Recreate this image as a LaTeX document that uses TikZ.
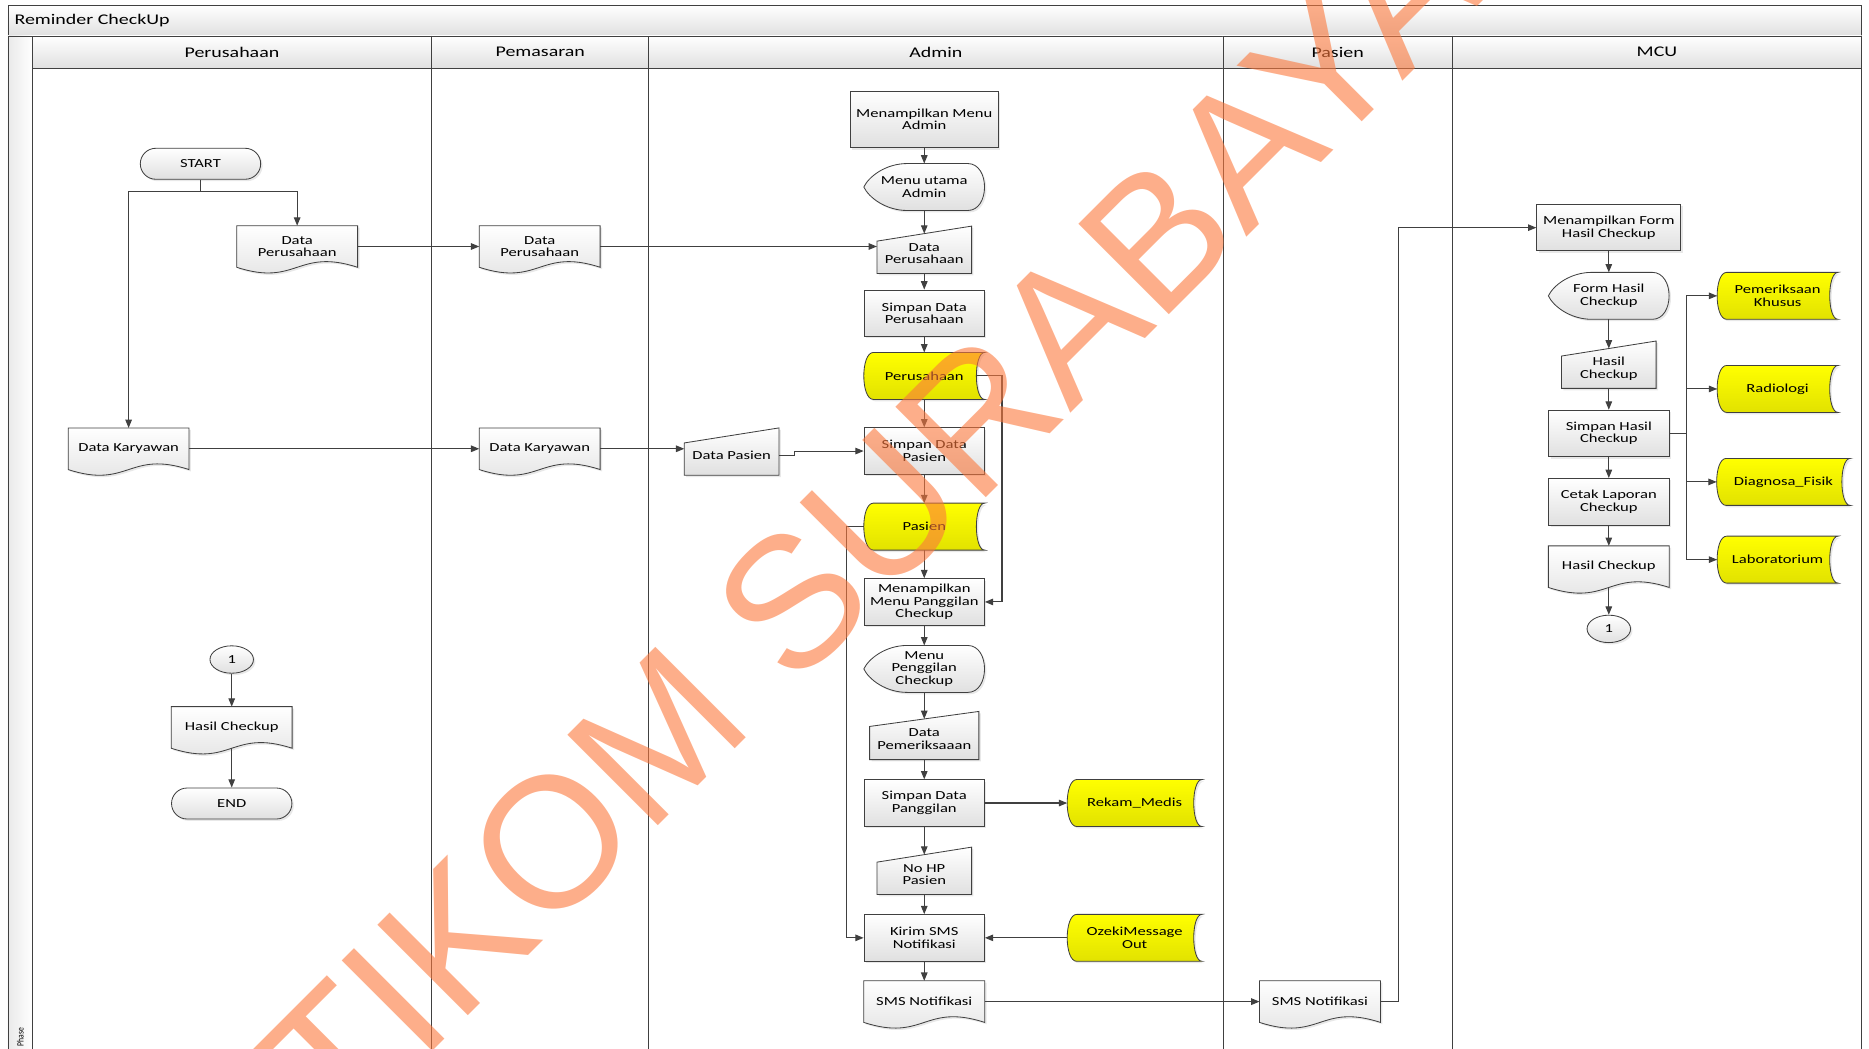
\documentclass[tikz,border=0pt]{standalone}
\usepackage{fontspec}
\setmainfont{Carlito}[FakeStretch=1.35]
\newfontfamily\phasefont{Carlito}[FakeStretch=0.8]
\newfontfamily\markfont{Liberation Sans}
\usetikzlibrary{arrows.meta, calc, shapes.geometric, shadows, backgrounds}
\definecolor{linegray}{RGB}{64,64,64}
\definecolor{boxgray}{RGB}{224,224,224}
\definecolor{storeyellow}{RGB}{255,255,0}
\definecolor{storedark}{RGB}{226,226,0}
\definecolor{markorange}{RGB}{251,120,60}
\tikzset{>={Triangle[length=7pt, width=5.5pt]}}
\tikzset{
	wire/.style={draw=linegray, line width=0.9pt},
	flow/.style={wire, ->},
	outline/.style={draw=linegray, line width=0.7pt},
	greyfill/.style={top color=white, bottom color=boxgray},
	yellowfill/.style={top color=storeyellow, bottom color=storedark},
	softshadow/.style={drop shadow={shadow xshift=1.6pt, shadow yshift=-1.6pt, opacity=0.18}},
	bodytext/.style={font=\fontsize{10.3}{10.6}\selectfont, align=center, inner sep=1pt},
	procbox/.style={bodytext, outline, greyfill, softshadow, minimum width=101pt, minimum height=39pt},
	termbox/.style={bodytext, outline, greyfill, softshadow, rounded corners=13pt, minimum width=101pt, minimum height=26pt},
	connbox/.style={bodytext, ellipse, outline, greyfill, softshadow, minimum width=36.5pt, minimum height=23pt, inner sep=0pt},
	docbox/.style={bodytext, minimum width=101pt, minimum height=34.5pt},
	inbox/.style={bodytext, minimum width=79pt, minimum height=33pt},
	dispbox/.style={bodytext, minimum width=101pt, minimum height=39pt},
	storebox/.style={bodytext, minimum width=101pt, minimum height=39pt},
	lanehead/.style={font=\fontsize{12.4}{13}\selectfont, inner sep=1pt}
}
% document with wavy bottom
\newcommand{\docshape}[1]{
	\draw[outline, greyfill, softshadow](#1.north west)--(#1.north east)--(#1.south east)
		.. controls ([yshift=16.5pt]#1.south) and ([yshift=-16.5pt]#1.south) .. (#1.south west)--cycle;
}
% manual input
\newcommand{\inshape}[1]{
	\draw[outline, greyfill, softshadow]([yshift=-6.3pt]#1.north west)--([yshift=6.3pt]#1.north east)--(#1.south east)--(#1.south west)--cycle;
}
% display
\newcommand{\dispshape}[1]{
	\draw[outline, greyfill, softshadow] let \p1=(#1.south west), \p2=(#1.north east), \p3=($(\p2)-(\p1)$) in
		(\x1+0.36*\x3, \y2)--(\x1+0.86*\x3, \y2)
		.. controls (\x1+1.045*\x3, \y2) and (\x1+1.045*\x3, \y1) .. (\x1+0.86*\x3, \y1)
		--(\x1+0.36*\x3, \y1)
		.. controls (\x1+0.18*\x3, \y1) and (\x1+0.04*\x3, \y1+0.28*\y3) .. (\x1, \y1+0.5*\y3)
		.. controls (\x1+0.04*\x3, \y1+0.72*\y3) and (\x1+0.18*\x3, \y2) .. (\x1+0.36*\x3, \y2)--cycle;
}
% stored data
\newcommand{\storeshape}[1]{
	\draw[outline, yellowfill, softshadow] let \p1=(#1.south west), \p2=(#1.north east) in
		(\x1+8pt, \y2)--(\x2, \y2)
		.. controls (\x2-9.3pt, \y2) and (\x2-9.3pt, \y1) .. (\x2, \y1)
		--(\x1+8pt, \y1)
		.. controls (\x1-2.7pt, \y1) and (\x1-2.7pt, \y2) .. (\x1+8pt, \y2)--cycle;
}

\begin{document}
\begin{tikzpicture}[x=1pt, y=-1pt]
	\useasboundingbox(0, 0)rectangle(1568, 880);
	% frame and lanes
	\draw[outline, greyfill](6.7, 4.2)rectangle(1561.8, 30.2);
	\node[lanehead, anchor=west](title) at (11, 17.4){Reminder CheckUp};
	\draw[outline, left color=boxgray!70, right color=white](6.7, 30.2)rectangle(27, 895);
	\node[font=\phasefont\fontsize{8}{8}\selectfont, rotate=90, inner sep=0pt](phase) at (17, 870){Phase};
	\foreach \l/\r/\name [count=\i] in {27/362.2/Perusahaan, 362.2/544.3/Pemasaran, 544.3/1026/Admin, 1026/1218.4/Pasien, 1218.4/1561.8/MCU}{
		\draw[outline, greyfill](\l, 30.2)rectangle(\r, 57.3);
		\node[lanehead](head\i) at ({(\l+\r)/2}, 43.7){\name};
		\draw[outline](\r, 57.3)--(\r, 895);
	}

	% Perusahaan
	\node[termbox](start) at (168.2, 137.4){START};
	\node[docbox](dp1) at (249.3, 206.8){Data\\Perusahaan};
	\node[docbox](dk1) at (107.9, 376.5){Data Karyawan};
	\node[connbox](c1a) at (194.4, 553.3){1};
	\node[docbox](hc1) at (194.4, 610.3){Hasil Checkup};
	\node[termbox](stop) at (194.4, 674.1){END};
	% Pemasaran
	\node[docbox](dp2) at (452.8, 206.8){Data\\Perusahaan};
	\node[docbox](dk2) at (452.8, 376.5){Data Karyawan};
	% Admin
	\node[inbox](dpas) at (613.8, 382){Data Pasien};
	\node[procbox, minimum width=124.4pt, minimum height=47.6pt](mma) at (775.4, 100.1){Menampilkan Menu\\Admin};
	\node[dispbox](mua) at (775.4, 156.9){Menu utama\\Admin};
	\node[inbox](dpa) at (775.4, 212.7){Data\\Perusahaan};
	\node[procbox](sdper) at (775.4, 262.8){Simpan Data\\Perusahaan};
	\node[storebox](sper) at (775.4, 315.4){Perusahaan};
	\node[procbox](sdpas) at (775.4, 378.4){Simpan Data\\Pasien};
	\node[storebox](spas) at (775.4, 441.8){Pasien};
	\node[procbox](mmpc) at (775.4, 505){Menampilkan\\Menu Panggilan\\Checkup};
	\node[dispbox](mpc) at (775.4, 561.2){Menu\\Penggilan\\Checkup};
	\node[inbox, minimum width=91.3pt, minimum height=33.7pt](dpem) at (775.4, 620.2){Data\\Pemeriksaaan};
	\node[procbox](sdpg) at (775.4, 673.7){Simpan Data\\Panggilan};
	\node[storebox, minimum width=112.7pt](rm) at (951.9, 673.7){Rekam\_Medis};
	\node[inbox](nohp) at (775.4, 733.7){No HP\\Pasien};
	\node[procbox](kirim) at (775.4, 786.8){Kirim SMS\\Notifikasi};
	\node[storebox, minimum width=112.7pt](ozeki) at (951.9, 786.8){OzekiMessage\\Out};
	\node[docbox](sms1) at (775.4, 840.3){SMS Notifikasi};
	% Pasien
	\node[docbox](sms2) at (1107.4, 840.3){SMS Notifikasi};
	% MCU
	\node[procbox, minimum width=120.9pt](mfhc) at (1349.7, 191){Menampilkan Form\\Hasil Checkup};
	\node[dispbox](fhc) at (1349.7, 248.2){Form Hasil\\Checkup};
	\node[inbox](hcin) at (1349.7, 309.1){Hasil\\Checkup};
	\node[procbox](shc) at (1349.7, 363.6){Simpan Hasil\\Checkup};
	\node[procbox](clc) at (1349.7, 420.9){Cetak Laporan\\Checkup};
	\node[docbox](hc2) at (1349.7, 475.4){Hasil Checkup};
	\node[connbox](c1b) at (1349.7, 527.6){1};
	\node[storebox](pk) at (1491.3, 248.2){Pemeriksaan\\Khusus};
	\node[storebox](rad) at (1491.3, 326.3){Radiologi};
	\node[storebox, minimum width=111.6pt](dfis) at (1496.2, 404.3){Diagnosa\_Fisik};
	\node[storebox](lab) at (1491.3, 469.5){Laboratorium};

	\begin{scope}[on background layer]
		\foreach \s in {dp1, dp2, dk1, dk2, hc1, sms1, sms2, hc2}{\docshape{\s}}
		\foreach \s in {dpas, dpa, dpem, nohp, hcin}{\inshape{\s}}
		\foreach \s in {mua, mpc, fhc}{\dispshape{\s}}
		\foreach \s in {sper, spas, rm, ozeki, pk, rad, dfis, lab}{\storeshape{\s}}
	\end{scope}

	% connectors
	\draw[flow](start.south)--++(0, 9.8)-|(dp1.north);
	\draw[flow](start.south)--++(0, 9.8)-|(dk1.north);
	\draw[flow](dp1.east)--(dp2.west);
	\draw[flow](dk1.east)--(dk2.west);
	\draw[flow](dp2.east)--(dp2.east-|dpa.west);
	\draw[flow](dk2.east)--(dk2.east-|dpas.west);
	\draw[flow](dpas.east)--++(13, 0)|-(sdpas.west);
	\foreach \up/\dn in {mma/mua, mua/dpa, dpa/sdper, sdper/sper, sper/sdpas, sdpas/spas, spas/mmpc, mmpc/mpc, mpc/dpem, dpem/sdpg, sdpg/nohp, nohp/kirim, kirim/sms1, mfhc/fhc, fhc/hcin, hcin/shc, shc/clc, clc/hc2, hc2/c1b, c1a/hc1, hc1/stop}
		\draw[flow](\up.south)--(\dn.north);
	\draw[flow]([xshift=-7pt]sper.east)--++(21.5, 0)|-(mmpc.east);
	\draw[flow](spas.west)--++(-14.5, 0)|-(kirim.west);
	\draw[flow](sdpg.east)--(rm.west);
	\draw[flow](ozeki.west)--(kirim.east);
	\draw[flow](sms1.east)--(sms2.west);
	\draw[flow](sms2.east)--++(15, 0)|-(mfhc.west);
	\coordinate(hub) at ([xshift=14.3pt]shc.east);
	\draw[wire](shc.east)--(hub);
	\foreach \s in {pk, rad, dfis, lab}
		\draw[flow](hub)|-(\s.west);

	% watermark
	\node[font=\markfont\fontsize{156}{156}\selectfont, text=markorange, text opacity=0.6, rotate=45, anchor=base, inner sep=0pt](mark) at (731, 514){STIKOM SURABAYA};
\end{tikzpicture}
\end{document}
